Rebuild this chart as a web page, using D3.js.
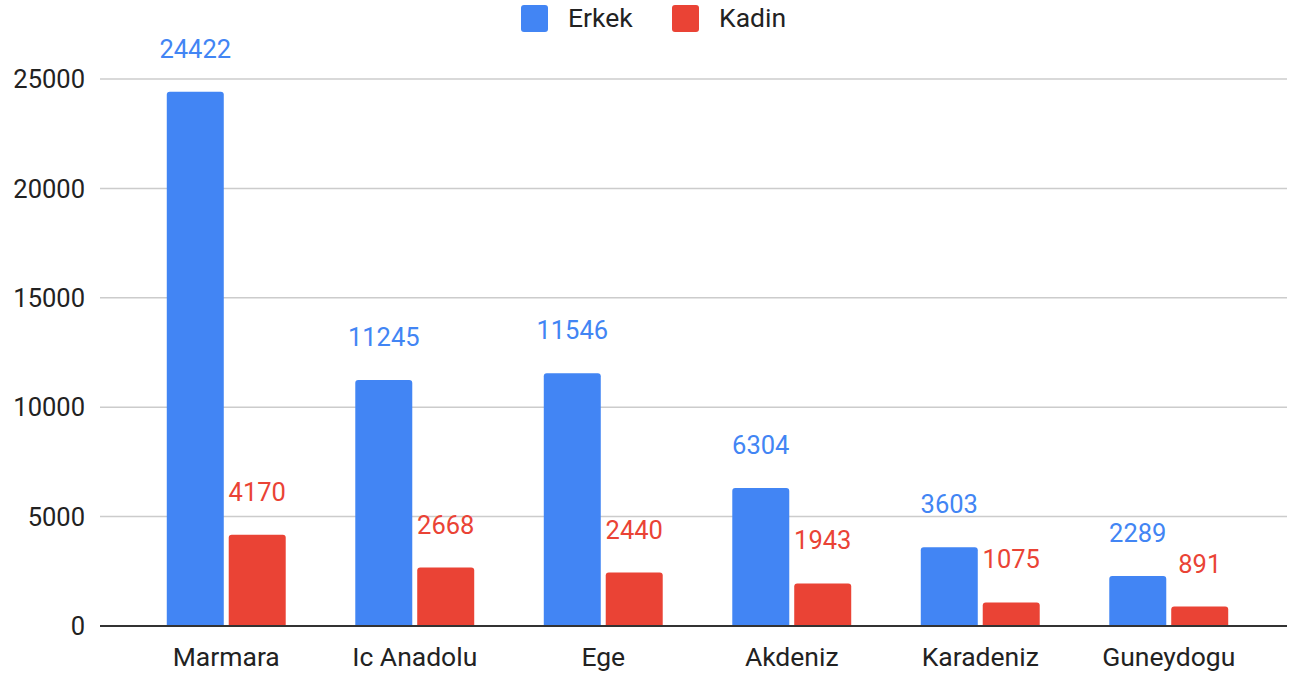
<!DOCTYPE html>
<html>
<head>
<meta charset="utf-8">
<script src="https://cdn.jsdelivr.net/npm/d3@7"></script>
<style>
  body { margin: 0; background: #fff; }
  svg { display: block; font-family: Roboto, "Noto Sans", sans-serif; }
</style>
</head>
<body>
<div id="chart"></div>
<script>
var regions = ["Marmara", "Ic Anadolu", "Ege", "Akdeniz", "Karadeniz", "Guneydogu"];
var seriesNames = ["Erkek", "Kadin"];
var erkek = [24422, 11245, 11546, 6304, 3603, 2289];
var kadin = [4170, 2668, 2440, 1943, 1075, 891];
var yTicks = [0, 5000, 10000, 15000, 20000, 25000];
var colors = ["#4285f4", "#ea4335"];

var width = 1289, height = 673;
var gridLeft = 100, gridRight = 1287;

var svg = d3.select("#chart").append("svg")
    .attr("width", width)
    .attr("height", height);

var y = d3.scaleLinear().domain([0, 25000]).range([626, 79]);

var x0 = d3.scaleBand().domain(regions).range([132, 1263])
    .paddingInner(0.369).paddingOuter(0.1845);
var x1 = d3.scaleBand().domain(seriesNames).range([0, x0.bandwidth()])
    .paddingInner(0.08);

// gridlines
svg.append("g").selectAll("line")
    .data(yTicks.filter(function(d) { return d > 0; }))
    .enter().append("line")
    .attr("x1", gridLeft).attr("x2", gridRight)
    .attr("y1", function(d) { return y(d); })
    .attr("y2", function(d) { return y(d); })
    .attr("stroke", "#cccccc")
    .attr("stroke-width", 1.5);

// y labels
svg.append("g").selectAll("text")
    .data(yTicks)
    .enter().append("text")
    .attr("x", 85)
    .attr("y", function(d) { return y(d); })
    .attr("dy", "0.36em")
    .attr("text-anchor", "end")
    .attr("font-size", 25.5)
    .attr("fill", "#222")
    .text(function(d) { return d; });

var rows = regions.map(function(r, i) {
    return { region: r, values: [erkek[i], kadin[i]] };
});

function topRounded(x, yTop, w, h, r) {
    r = Math.min(r, h, w / 2);
    return "M" + x + "," + (yTop + h) +
        "V" + (yTop + r) +
        "Q" + x + "," + yTop + " " + (x + r) + "," + yTop +
        "H" + (x + w - r) +
        "Q" + (x + w) + "," + yTop + " " + (x + w) + "," + (yTop + r) +
        "V" + (yTop + h) + "Z";
}

var groups = svg.append("g").selectAll("g")
    .data(rows)
    .enter().append("g")
    .attr("transform", function(d) { return "translate(" + x0(d.region) + ",0)"; });

groups.selectAll("path")
    .data(function(d) { return d.values.map(function(v, j) { return { s: seriesNames[j], v: v, j: j }; }); })
    .enter().append("path")
    .attr("d", function(d) {
        return topRounded(x1(d.s), y(d.v), x1.bandwidth(), y(0) - y(d.v), 3);
    })
    .attr("fill", function(d) { return colors[d.j]; });

groups.selectAll("text")
    .data(function(d) { return d.values.map(function(v, j) { return { s: seriesNames[j], v: v, j: j }; }); })
    .enter().append("text")
    .attr("x", function(d) { return x1(d.s) + x1.bandwidth() / 2; })
    .attr("y", function(d) { return y(d.v) - 34; })
    .attr("text-anchor", "middle")
    .attr("font-size", 25.5)
    .attr("fill", function(d) { return colors[d.j]; })
    .text(function(d) { return d.v; });

// baseline
svg.append("line")
    .attr("x1", gridLeft).attr("x2", gridRight)
    .attr("y1", y(0)).attr("y2", y(0))
    .attr("stroke", "#333")
    .attr("stroke-width", 2);

// category labels
svg.append("g").selectAll("text")
    .data(regions)
    .enter().append("text")
    .attr("x", function(d) { return x0(d) + x0.bandwidth() / 2; })
    .attr("y", 666)
    .attr("text-anchor", "middle")
    .attr("font-size", 26.5)
    .attr("fill", "#222")
    .text(function(d) { return d; });

// legend
var legendX = [521, 672];
var legend = svg.append("g").selectAll("g")
    .data(seriesNames)
    .enter().append("g")
    .attr("transform", function(d, i) { return "translate(" + legendX[i] + ",5)"; });
legend.append("rect")
    .attr("width", 27).attr("height", 27)
    .attr("rx", 3).attr("ry", 3)
    .attr("fill", function(d, i) { return colors[i]; });
legend.append("text")
    .attr("x", 47)
    .attr("y", 22)
    .attr("font-size", 26.5)
    .attr("fill", "#222")
    .text(function(d) { return d; });
</script>
</body>
</html>
